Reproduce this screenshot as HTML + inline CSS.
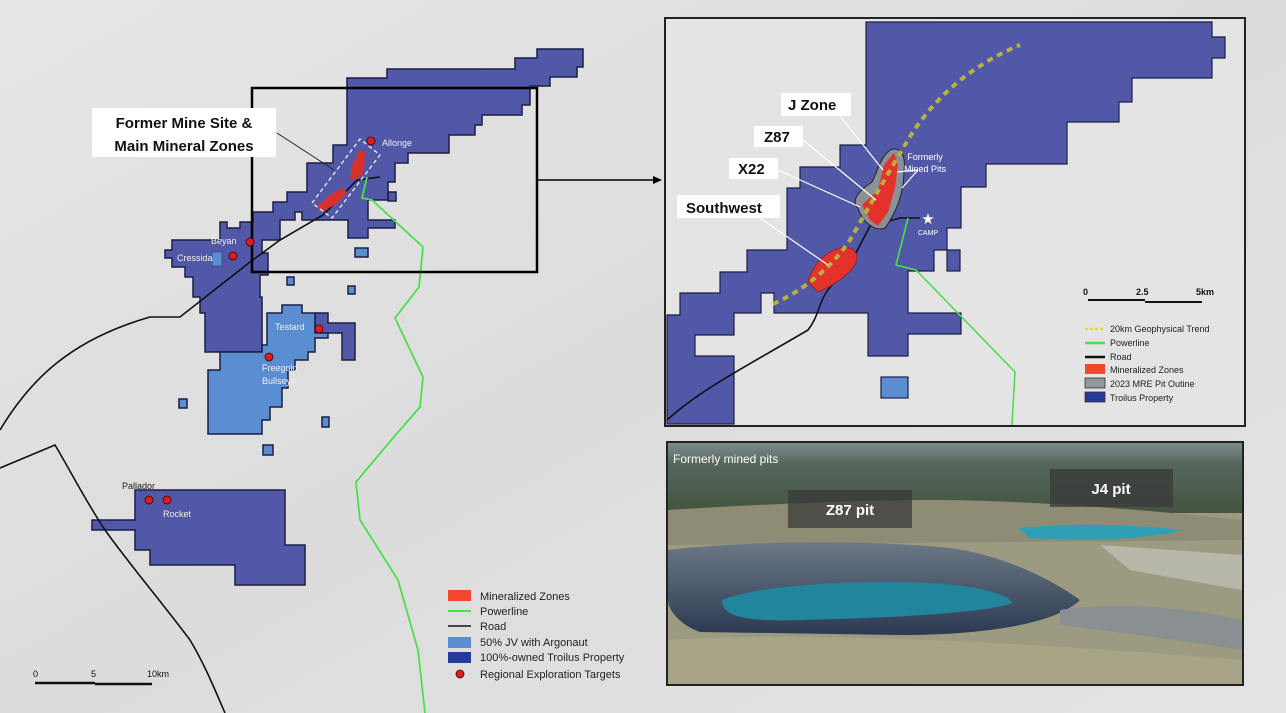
<!DOCTYPE html>
<html><head><meta charset="utf-8"><style>
body{margin:0;background:#e3e3e3;}
svg{display:block;font-family:"Liberation Sans",sans-serif;}
</style></head><body>
<svg width="1286" height="713" viewBox="0 0 1286 713" xmlns="http://www.w3.org/2000/svg">
<defs>
<linearGradient id="bg" x1="0" y1="0" x2="1" y2="1"><stop offset="0" stop-color="#e6e6e6"/><stop offset="0.5" stop-color="#dcdcdc"/><stop offset="1" stop-color="#e4e4e4"/></linearGradient>
<linearGradient id="forest" x1="0" y1="0" x2="0" y2="1"><stop offset="0" stop-color="#7d8c8c"/><stop offset="0.3" stop-color="#56665c"/><stop offset="1" stop-color="#44543f"/></linearGradient>
<linearGradient id="wall" x1="0" y1="0" x2="0" y2="1"><stop offset="0" stop-color="#6c7886"/><stop offset="1" stop-color="#2c3a52"/></linearGradient>
</defs>
<rect width="1286" height="713" fill="url(#bg)"/>

<g stroke="#1b1f45" stroke-width="1.5">
<polygon fill="#5158a8" points="537,49 583,49 583,67 577,67 577,77 550,77 550,86 530,86 530,105 522,105 522,115 482,115 482,125 475,125 475,135 449,135 449,153 408,153 408,163 395,163 395,182 388,182 388,200 368,200 368,220 395,220 395,228 368,228 368,238 348,238 348,220 302,220 302,212 295,212 295,220 280,220 280,240 262,240 262,253 268,253 268,275 260,275 260,297 262,297 262,352 205,352 205,313 200,313 200,297 193,297 193,277 185,277 185,267 172,267 172,258 165,258 165,250 172,250 172,240 220,240 220,222 227,222 227,228 240,228 240,222 253,222 253,212 273,212 273,202 287,202 287,192 307,192 307,163 333,163 333,145 347,145 347,78 387,78 387,69 515,69 515,58 537,58"/>
<polygon fill="#5158a8" points="315,313 328,313 328,323 355,323 355,360 342,360 342,333 315,333"/>
<polygon fill="#5a8ed0" points="220,352 262,352 262,345 267,345 267,313 282,313 282,305 302,305 302,313 315,313 315,333 328,333 328,338 315,338 315,352 308,352 308,360 295,360 295,370 288,370 288,388 282,388 282,407 270,407 270,420 262,420 262,434 208,434 208,370 220,370"/>
<rect x="212" y="252" width="10" height="14" fill="#5a8ed0" stroke="#3d4590" stroke-width="0.8"/>
<polygon fill="#5158a8" points="135,490 285,490 285,545 305,545 305,585 235,585 235,565 150,565 150,550 135,550 135,530 92,530 92,520 135,520"/>
<rect x="388" y="192" width="8" height="9" fill="#5158a8"/>
<rect x="355" y="248" width="13" height="9" fill="#5a8ed0"/>
<rect x="287" y="277" width="7" height="8" fill="#5a8ed0"/>
<rect x="348" y="286" width="7" height="8" fill="#5a8ed0"/>
<rect x="179" y="399" width="8" height="9" fill="#5a8ed0"/>
<rect x="263" y="445" width="10" height="10" fill="#5a8ed0"/>
<rect x="322" y="417" width="7" height="10" fill="#5a8ed0"/>
</g>
<path d="M0,430 C30,380 70,340 150,317 L180,317 L250,262 L280,240 L323,215 L330,208 L357,180 L380,177" fill="none" stroke="#111" stroke-width="1.6"/>
<path d="M0,468 L55,445 C70,470 85,500 105,530 C130,565 160,600 190,640 C205,665 215,690 225,713" fill="none" stroke="#111" stroke-width="1.6"/>
<path d="M367,177 L362,198 L372,200 L423,247 L419,287 L395,318 L423,377 L420,407 L393,438 L356,482 L360,520 L398,580 L418,650 L425,713" fill="none" stroke="#4be04b" stroke-width="1.8"/>
<path d="M317,207 L330,195 L342,188 L347,192 L338,203 L322,212Z" fill="#d8302a"/>
<path d="M350,178 L352,165 L360,150 L365,152 L364,172 L356,180Z" fill="#d8302a"/>
<polygon points="312,203 360,139 380,155 332,218" fill="none" stroke="#fff" stroke-width="1.2" stroke-dasharray="4,3"/>
<line x1="277" y1="133" x2="334" y2="170" stroke="#222" stroke-width="1"/>
<rect x="252" y="88" width="285" height="184" fill="none" stroke="#000" stroke-width="2.5"/>
<line x1="537" y1="180" x2="656" y2="180" stroke="#000" stroke-width="1.5"/>
<polygon points="662,180 653,176 653,184" fill="#000"/>
<g fill="#e01b1b" stroke="#400" stroke-width="0.8">
<circle cx="371" cy="141" r="4"/><circle cx="250" cy="242" r="4"/><circle cx="233" cy="256" r="4"/><circle cx="319" cy="329" r="4"/><circle cx="269" cy="357" r="4"/><circle cx="149" cy="500" r="4"/><circle cx="167" cy="500" r="4"/>
</g>
<g fill="#eee" font-size="9">
<text x="382" y="146">Allonge</text><text x="211" y="244">Beyan</text><text x="177" y="261">Cressida</text><text x="275" y="330">Testard</text>
<text x="262" y="371">Freegold</text><text x="262" y="384">Bullseye</text>
</g>
<g fill="#222" font-size="9"><text x="122" y="489">Pallador</text></g>
<g fill="#eee" font-size="9"><text x="163" y="517">Rocket</text></g>
<rect x="92" y="108" width="184" height="49" fill="#fff"/>
<text x="184" y="128" font-size="15" font-weight="bold" text-anchor="middle" fill="#111">Former Mine Site &amp;</text>
<text x="184" y="151" font-size="15" font-weight="bold" text-anchor="middle" fill="#111">Main Mineral Zones</text>
<rect x="448" y="590" width="23" height="11" fill="#f2462e"/>
<line x1="448" y1="611" x2="471" y2="611" stroke="#4be04b" stroke-width="2"/>
<line x1="448" y1="626" x2="471" y2="626" stroke="#111" stroke-width="1.5"/>
<rect x="448" y="637" width="23" height="11" fill="#5a8ed0"/>
<rect x="448" y="652" width="23" height="11" fill="#253a9a"/>
<circle cx="460" cy="674" r="4" fill="#e01b1b" stroke="#400" stroke-width="0.8"/>
<g font-size="11" fill="#222">
<text x="480" y="600">Mineralized Zones</text><text x="480" y="615">Powerline</text><text x="480" y="630">Road</text>
<text x="480" y="646">50% JV with Argonaut</text><text x="480" y="661">100%-owned Troilus Property</text><text x="480" y="678">Regional Exploration Targets</text>
</g>
<g font-size="9" fill="#111"><text x="33" y="677">0</text><text x="91" y="677">5</text><text x="147" y="677">10km</text></g>
<line x1="35" y1="683" x2="95" y2="683" stroke="#111" stroke-width="2.5"/>
<line x1="95" y1="684" x2="152" y2="684" stroke="#111" stroke-width="2.5"/>

<rect x="665" y="18" width="580" height="408" fill="#e4e4e4" stroke="#222" stroke-width="2"/>
<polygon fill="#5158a8" stroke="#1b1f45" stroke-width="1.2" points="866,22 1212,22 1212,37 1225,37 1225,58 1212,58 1212,78 1132,78 1132,102 1119,102 1119,122 1067,122 1067,164 986,164 986,187 961,187 961,228 947,228 947,250 934,250 934,271 908,271 908,313 961,313 961,334 908,334 908,356 868,356 868,313 774,313 774,293 761,293 761,313 734,313 734,335 695,335 695,356 734,356 734,424 667,424 667,315 680,315 680,293 720,293 720,272 747,272 747,250 787,250 787,188 800,188 800,167 840,167 840,145 866,145"/>
<rect x="947" y="250" width="13" height="21" fill="#5158a8" stroke="#1b1f45" stroke-width="1.2"/>
<rect x="881" y="377" width="27" height="21" fill="#5a8ed0" stroke="#1b1f45" stroke-width="1.2"/>
<path d="M667,420 C700,390 740,370 808,330 C820,315 818,300 832,285 L848,268 L870,226 L900,218 L920,218" fill="none" stroke="#111" stroke-width="1.6"/>
<path d="M908,218 L896,265 L916,270 L1015,372 L1012,425" fill="none" stroke="#4be04b" stroke-width="1.6"/>
<path d="M858,208 C850,200 860,190 872,182 C878,170 880,158 890,150 C900,146 906,155 904,170 C904,190 898,210 885,228 C875,232 862,222 858,208Z" fill="#8a9096" stroke="#222" stroke-width="1"/>
<path d="M862,205 L878,190 L884,165 L894,153 L898,165 L895,188 L888,212 L878,226 L870,220Z" fill="#e3322b"/>
<path d="M808,282 C812,265 825,252 840,248 C855,245 860,255 855,265 C848,275 835,285 818,292Z" fill="#e3322b" stroke="#8a2222" stroke-width="0.8"/>
<path d="M773,304 C800,292 830,270 850,240 C870,205 890,170 905,145 C925,110 960,70 1020,45" fill="none" stroke="#b7b13e" stroke-width="4" stroke-dasharray="6,5"/>
<g stroke="#fff" stroke-width="1.2" fill="none">
<line x1="840" y1="116" x2="883" y2="170"/><line x1="803" y1="140" x2="876" y2="200"/><line x1="778" y1="170" x2="860" y2="207"/><line x1="760" y1="218" x2="828" y2="265"/>
<line x1="918" y1="170" x2="897" y2="172"/><line x1="918" y1="170" x2="902" y2="188"/>
</g>
<text x="928" y="224" font-size="15" fill="#fff" text-anchor="middle">★</text>
<text x="928" y="235" font-size="7" fill="#fff" text-anchor="middle">CAMP</text>
<text x="925" y="160" font-size="9" fill="#fff" text-anchor="middle">Formerly</text>
<text x="925" y="172" font-size="9" fill="#fff" text-anchor="middle">Mined Pits</text>
<g font-weight="bold" font-size="15" fill="#111">
<rect x="781" y="93" width="70" height="23" fill="#fff"/><text x="788" y="110">J Zone</text>
<rect x="754" y="126" width="49" height="21" fill="#fff"/><text x="764" y="142">Z87</text>
<rect x="729" y="158" width="49" height="21" fill="#fff"/><text x="738" y="174">X22</text>
<rect x="677" y="195" width="103" height="23" fill="#fff"/><text x="686" y="213">Southwest</text>
</g>
<g font-size="9" fill="#111" font-weight="bold"><text x="1083" y="295">0</text><text x="1136" y="295">2.5</text><text x="1196" y="295">5km</text></g>
<line x1="1088" y1="300" x2="1145" y2="300" stroke="#111" stroke-width="2"/>
<line x1="1145" y1="302" x2="1202" y2="302" stroke="#111" stroke-width="2"/>
<line x1="1085" y1="329" x2="1105" y2="329" stroke="#e6dc2e" stroke-width="2.5" stroke-dasharray="3,2"/>
<line x1="1085" y1="343" x2="1105" y2="343" stroke="#4be04b" stroke-width="2.5"/>
<line x1="1085" y1="357" x2="1105" y2="357" stroke="#111" stroke-width="2.5"/>
<rect x="1085" y="364" width="20" height="10" fill="#f2462e"/>
<rect x="1085" y="378" width="20" height="10" fill="#8f9a9c" stroke="#333" stroke-width="0.8"/>
<rect x="1085" y="392" width="20" height="10" fill="#253a9a" stroke="#333" stroke-width="0.8"/>
<g font-size="9" fill="#222">
<text x="1110" y="332">20km Geophysical Trend</text><text x="1110" y="346">Powerline</text><text x="1110" y="360">Road</text>
<text x="1110" y="373">Mineralized Zones</text><text x="1110" y="387">2023 MRE Pit Outine</text><text x="1110" y="401">Troilus Property</text>
</g>

<rect x="667" y="442" width="576" height="243" fill="#9c9a80" stroke="#222" stroke-width="2"/>
<rect x="668" y="443" width="574" height="70" fill="url(#forest)"/>
<path d="M668,510 C750,505 850,500 930,500 C1000,500 1100,505 1242,520 L1242,540 L668,545Z" fill="#8f8c76"/>
<path d="M1100,545 L1242,555 L1242,590 L1130,570Z" fill="#b8b8aa"/>
<path d="M668,550 C760,540 870,540 950,548 C1010,556 1060,585 1080,600 C1060,620 1000,635 900,635 L700,632 C680,625 668,610 668,600Z" fill="url(#wall)"/>
<path d="M722,600 C760,585 850,580 930,583 C980,586 1010,595 1012,603 C990,612 900,618 800,620 C740,622 722,615 722,600Z" fill="#22859e"/>
<path d="M1018,528 C1060,524 1120,523 1182,530 C1150,540 1080,541 1030,538Z" fill="#2f9fb5"/>
<path d="M1060,610 C1120,600 1200,610 1242,620 L1242,650 C1180,640 1100,630 1060,625Z" fill="#8a8f92"/>
<path d="M668,640 C800,632 1000,640 1242,660 L1242,684 L668,684Z" fill="#a7a585"/>
<text x="673" y="463" font-size="12" fill="#fff">Formerly mined pits</text>
<rect x="788" y="490" width="124" height="38" fill="#3a3a3a" opacity="0.75"/>
<text x="850" y="515" font-size="15" font-weight="bold" fill="#fff" text-anchor="middle">Z87 pit</text>
<rect x="1050" y="469" width="123" height="38" fill="#3a3a3a" opacity="0.75"/>
<text x="1111" y="494" font-size="15" font-weight="bold" fill="#fff" text-anchor="middle">J4 pit</text>
</svg>
</body></html>
